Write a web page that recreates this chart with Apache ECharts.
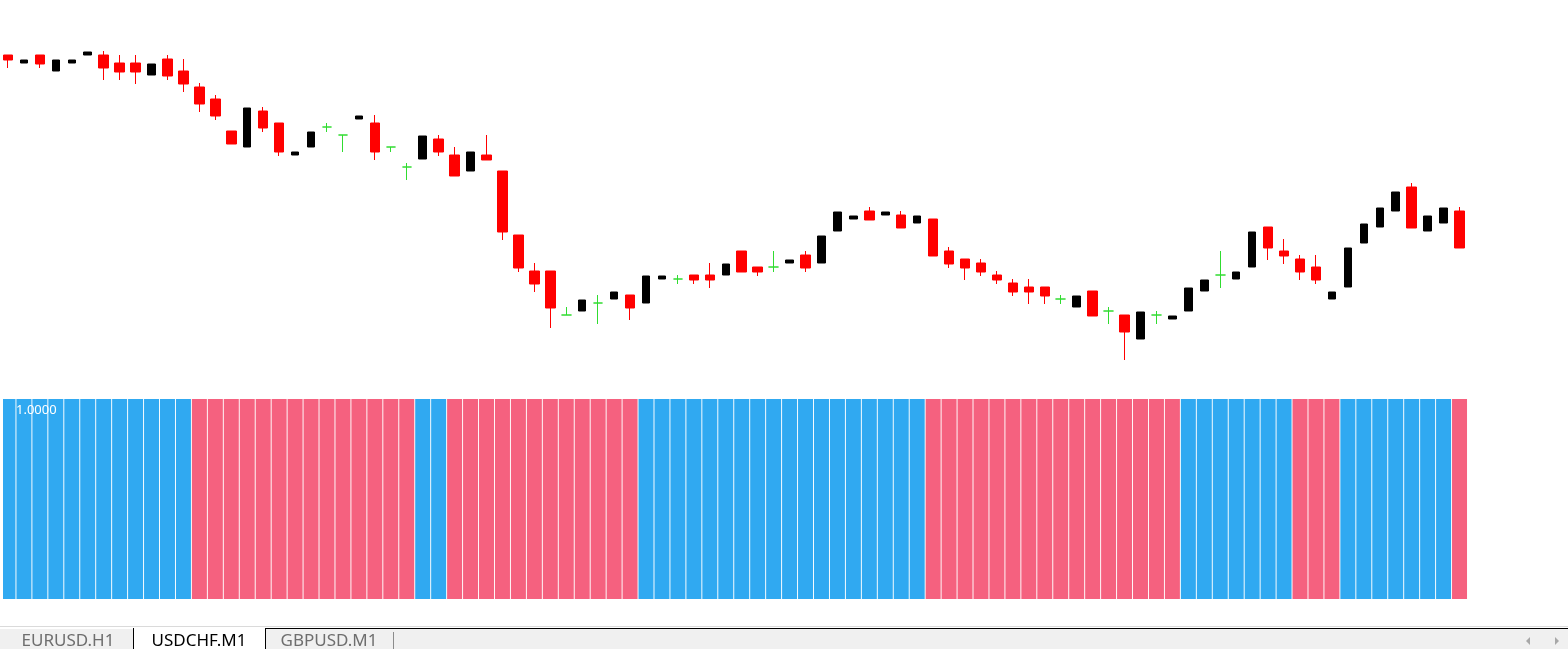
<!DOCTYPE html>
<html>
<head>
<meta charset="utf-8">
<script src="https://cdn.jsdelivr.net/npm/echarts@6/dist/echarts.min.js"></script>
<style>
html,body{margin:0;padding:0;background:#fff;}
#chart{width:1568px;height:649px;}
</style>
</head>
<body>
<div id="chart"></div>
<script>
// Prices in points, one entry per M1 candle
const open  = [345,337,345,329,337,345,345,337,337,325,341,329,313,301,269,253,289,277,245,253,273,265,281,277,253,233,241,261,245,229,245,229,165,129,129,85,89,97,101,105,97,121,121,125,125,125,149,133,133,137,145,137,169,181,189,185,185,177,181,149,141,137,125,117,113,113,101,93,109,89,85,61,85,81,89,109,125,121,133,173,149,141,133,101,113,157,173,189,213,169,177,189];
const close = [340,340,336,340,340,348,332,328,328,336,324,316,296,284,256,292,272,248,248,268,273,265,284,248,253,233,264,248,224,248,240,168,132,116,92,85,100,97,108,92,124,124,121,120,120,136,128,128,133,140,132,164,188,184,180,188,172,184,144,136,132,128,120,108,108,104,101,104,84,89,68,88,85,84,112,120,125,128,168,152,144,128,120,108,152,176,192,208,172,184,192,152];
const low   = [332,337,332,329,337,345,320,320,316,325,320,308,288,280,256,253,268,244,245,253,268,248,281,240,248,220,241,244,224,229,240,160,128,108,72,85,89,76,101,80,97,121,116,116,112,125,128,124,128,137,128,137,169,181,180,185,172,177,144,132,120,124,116,104,96,96,96,93,84,76,40,61,76,81,89,109,112,121,133,140,136,120,116,101,113,157,173,189,172,169,177,152];
const high  = [345,340,345,340,340,348,349,345,345,336,345,341,317,305,269,292,293,277,248,268,277,265,284,285,253,237,264,265,253,248,265,229,165,137,129,93,100,105,108,105,124,124,125,125,137,136,149,133,149,140,149,164,188,184,193,188,189,184,181,153,141,141,129,121,121,113,105,104,109,93,85,88,89,84,112,120,149,128,168,173,161,145,145,108,152,176,192,208,217,184,192,193];
// Indicator histogram (value and direction: 1 = up/blue, -1 = down/pink)
const histValue = [1,1,1,1,1,1,1,1,1,1,1,1,1,1,1,1,1,1,1,1,1,1,1,1,1,1,1,1,1,1,1,1,1,1,1,1,1,1,1,1,1,1,1,1,1,1,1,1,1,1,1,1,1,1,1,1,1,1,1,1,1,1,1,1,1,1,1,1,1,1,1,1,1,1,1,1,1,1,1,1,1,1,1,1,1,1,1,1,1,1,1,1];
const histDir = [1,1,1,1,1,1,1,1,1,1,1,1,
  -1,-1,-1,-1,-1,-1,-1,-1,-1,-1,-1,-1,-1,-1,
  1,1,
  -1,-1,-1,-1,-1,-1,-1,-1,-1,-1,-1,-1,
  1,1,1,1,1,1,1,1,1,1,1,1,1,1,1,1,1,1,
  -1,-1,-1,-1,-1,-1,-1,-1,-1,-1,-1,-1,-1,-1,-1,-1,
  1,1,1,1,1,1,1,
  -1,-1,-1,
  1,1,1,1,1,1,1,
  -1];
const levelLabel = '1.0000';
const tabs = ['EURUSD.H1', 'USDCHF.M1', 'GBPUSD.M1'];

const categories = open.map((_, i) => String(i + 1));
const RED = '#ff0000', BLACK = '#000000', GREEN = '#30dc30';
const BLUE = '#30a9f1', PINK = '#f5617f';

const bearData = [], bullData = [];
for (let i = 0; i < open.length; i++) {
  const v = [open[i], close[i], low[i], high[i]];
  const empty = ['-', '-', '-', '-'];
  if (open[i] === close[i]) {
    bearData.push({ value: v, itemStyle: { color: GREEN, color0: GREEN, borderColor: GREEN, borderColor0: GREEN, borderColorDoji: GREEN } });
    bullData.push(empty);
  } else if (open[i] > close[i]) {
    bearData.push(v); bullData.push(empty);
  } else {
    bullData.push(v); bearData.push(empty);
  }
}
const histData = histValue.map((v, i) => ({ value: v, itemStyle: { color: histDir[i] > 0 ? BLUE : PINK } }));

const chart = echarts.init(document.getElementById('chart'), null, { renderer: 'canvas' });
const gridLeft = -4.5, gridWidth = 1472;
chart.setOption({
  animation: false,
  backgroundColor: '#ffffff',
  grid: [
    { left: gridLeft, width: gridWidth, top: 0, height: 400 },
    { left: gridLeft, width: gridWidth, top: 399, height: 200 }
  ],
  xAxis: [
    { type: 'category', gridIndex: 0, data: categories, boundaryGap: true, show: false },
    { type: 'category', gridIndex: 1, data: categories, boundaryGap: true, show: false }
  ],
  yAxis: [
    { type: 'value', gridIndex: 0, min: 0, max: 400, show: false, splitLine: { show: false } },
    { type: 'value', gridIndex: 1, min: 0, max: 1, show: false, splitLine: { show: false } }
  ],
  series: [
    {
      type: 'candlestick', xAxisIndex: 0, yAxisIndex: 0, barWidth: 10, data: bearData,
      itemStyle: { color: RED, color0: RED, borderColor: RED, borderColor0: RED, borderWidth: 1 }
    },
    {
      type: 'candlestick', xAxisIndex: 0, yAxisIndex: 0, barWidth: 8, data: bullData,
      itemStyle: { color: BLACK, color0: BLACK, borderColor: BLACK, borderColor0: BLACK, borderWidth: 1 }
    },
    {
      type: 'bar', xAxisIndex: 1, yAxisIndex: 1, barWidth: 15, data: histData
    }
  ],
  graphic: [
    { type: 'rect', z: 100, shape: { x: 0, y: 0, width: 3, height: 610 }, style: { fill: '#ffffff' } },
    { type: 'text', z: 101, left: 16, top: 404, style: { text: levelLabel, fill: '#ffffff', font: '13px "Noto Sans", sans-serif' } },
    // tab bar
    { type: 'rect', z: 100, shape: { x: 0, y: 626, width: 1568, height: 1 }, style: { fill: '#dadada' } },
    { type: 'rect', z: 100, shape: { x: 0, y: 629, width: 133, height: 20 }, style: { fill: '#f0f0f0' } },
    { type: 'rect', z: 100, shape: { x: 265, y: 629, width: 1303, height: 20 }, style: { fill: '#f0f0f0' } },
    { type: 'rect', z: 101, shape: { x: 265, y: 628, width: 1303, height: 1 }, style: { fill: '#000000' } },
    { type: 'rect', z: 101, shape: { x: 133, y: 628, width: 1, height: 21 }, style: { fill: '#000000' } },
    { type: 'rect', z: 101, shape: { x: 265, y: 628, width: 1, height: 21 }, style: { fill: '#000000' } },
    { type: 'rect', z: 101, shape: { x: 393, y: 632, width: 1, height: 17 }, style: { fill: '#8c8c8c' } },
    { type: 'text', z: 102, x: 68, y: 633, style: { text: tabs[0], fill: '#6e6e6e', font: '17px "Noto Sans", sans-serif', align: 'center', verticalAlign: 'top' } },
    { type: 'text', z: 102, x: 199, y: 633, style: { text: tabs[1], fill: '#000000', font: '17px "Noto Sans", sans-serif', align: 'center', verticalAlign: 'top' } },
    { type: 'text', z: 102, x: 329, y: 633, style: { text: tabs[2], fill: '#6e6e6e', font: '17px "Noto Sans", sans-serif', align: 'center', verticalAlign: 'top' } },
    { type: 'polygon', z: 102, shape: { points: [[1530, 637], [1530, 645], [1526, 641]] }, style: { fill: '#a8a8a8' } },
    { type: 'polygon', z: 102, shape: { points: [[1555, 637], [1555, 645], [1559, 641]] }, style: { fill: '#a8a8a8' } }
  ]
});
</script>
</body>
</html>
